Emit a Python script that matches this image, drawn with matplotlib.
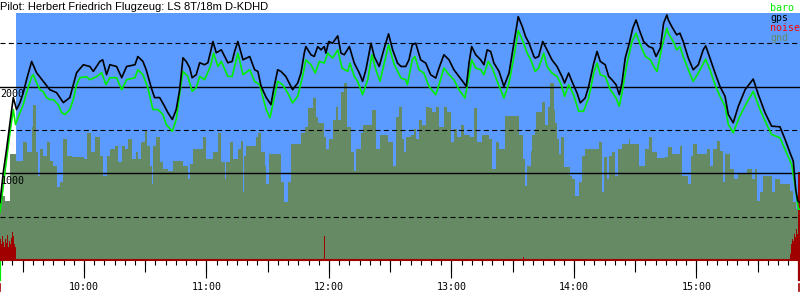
import matplotlib
matplotlib.use("Agg")
import matplotlib.pyplot as plt
from matplotlib.ticker import MultipleLocator

title = "Pilot: Herbert Friedrich Flugzeug: LS 8T/18m D-KDHD"

# all times are minutes after 09:00, altitudes in m
gps_min = [18.9, 20.5, 22.1, 23.8, 25.4, 27.0, 28.7, 30.3, 31.9, 34.4, 36.8, 40.1, 43.3, 46.6, 49.9, 53.1,
           56.4, 59.7, 62.9, 64.6, 67.8, 69.2, 71.1, 72.7, 76.0, 78.5, 80.9, 85.0,
           86.4, 88.9, 90.5, 93.0, 94.6, 97.1, 99.5, 101.1, 103.3, 105.2, 106.9, 108.5, 110.1, 111.8, 113.0,
           115.0, 116.7, 119.1, 120.7, 121.9, 123.2, 124.8, 127.3, 130.5, 132.6, 133.8, 135.4, 137.9, 141.2,
           143.6, 145.2, 146.8, 149.3,
           151.6, 153.2, 154.9, 156.5, 158.9, 162.2, 164.7, 166.3, 167.9, 168.7, 171.2, 172.8, 174.5, 176.1,
           177.7, 178.5, 179.9, 181.8, 184.3, 185.9, 187.5, 190.0, 192.4, 194.9, 196.5, 198.1, 200.6, 202.2,
           204.6, 207.1, 209.2, 211.2, 213.6, 215.3,
           217.6, 219.2, 220.8, 222.5, 224.9, 227.4, 229.8, 232.3, 233.9, 236.3, 238.8, 241.2, 243.7, 246.1,
           247.3, 248.6, 249.9, 251.9, 254.3, 255.9, 257.5, 259.2, 260.8, 263.3, 265.7, 268.2, 270.6, 272.7,
           274.7, 276.3, 278.0, 280.4,
           281.0, 282.7, 284.7, 286.8, 289.2, 291.7, 294.1, 295.4, 297.4, 299.0, 301.5, 303.1, 305.5, 307.2,
           309.7, 311.3, 312.9, 315.3, 317.0, 318.6, 320.6, 322.2, 323.5, 325.1, 327.1, 328.8, 330.4, 332.0,
           334.1, 336.6, 338.6, 340.2, 342.3, 343.9, 345.5,
           346.2, 347.9, 350.3, 351.9, 353.5, 356.0, 358.4, 360.9, 363.3, 364.5, 366.6, 369.1, 371.5, 374.0,
           375.6, 378.0, 380.5, 383.8, 387.8, 390.3, 393.6, 396.8, 400.9, 403.4, 405.8, 407.4, 408.6, 409.6,
           410.7]
gps_alt = [663, 1011, 1276, 1586, 1874, 1736, 1816, 1931, 2080, 2291, 2161, 2061, 1965, 1931, 1816, 1874,
           2161, 2253, 2233, 2176, 2291, 2310, 2138, 2253, 2233, 2103, 2233, 2253,
           2348, 2291, 2195, 1988, 1874, 1874, 1774, 1701, 1621, 1736, 1965, 2333, 2291, 2218, 2103,
           2138, 2276, 2253, 2276, 2391, 2521, 2391, 2425, 2276, 2291, 2406, 2521, 2310, 2348,
           2195, 2176, 2003, 1874,
           1793, 2003, 2195, 2176, 2118, 1965, 2042, 2157, 2387, 2463, 2368, 2348, 2463, 2425,
           2463, 2387, 2521, 2502, 2586, 2387, 2368, 2463, 2272, 2157, 2061, 2195, 2502, 2348,
           2233, 2445, 2609, 2425, 2272, 2233,
           2233, 2310, 2483, 2502, 2310, 2272, 2138, 2100, 2215, 2368, 2310, 2195, 2118, 2042,
           2003, 2272, 2463, 2368, 2310, 2253, 2425, 2406, 2272, 2176, 2003, 2157, 2502, 2808,
           2693, 2578, 2502, 2348,
           2330, 2348, 2521, 2425, 2310, 2233, 2118, 2042, 2157, 2061, 1928, 1813, 1870, 2003,
           2272, 2406, 2291, 2253, 2118, 2080, 2023, 1908, 2042, 2330, 2502, 2675, 2770, 2655,
           2521, 2463, 2445, 2348, 2445, 2732, 2828,
           2770, 2693, 2598, 2617, 2521, 2330, 2195, 2253, 2425, 2471, 2330, 2157, 2003, 1888,
           1678, 1583, 1774, 1965, 2088, 1908, 1698, 1544, 1537, 1391, 1238, 1141, 816, 682,
           663]

baro_min = [18.9, 20.5, 22.1, 23.8, 25.4, 26.5, 28.7, 30.3, 31.9, 34.4, 35.2, 36.8, 38.5, 40.1, 41.7, 43.3,
            45.0, 47.4, 49.1, 50.7, 53.1, 54.8, 56.4, 58.0, 61.3, 62.9, 66.2, 68.7, 70.8, 72.7, 76.0, 78.5,
            80.9, 85.0,
            86.4, 88.9, 91.3, 93.8, 96.2, 98.7, 100.3, 103.3, 105.2, 107.0, 108.5, 110.9, 113.0, 115.0,
            116.7, 119.1, 121.9, 123.5, 125.6, 127.3, 130.5, 132.6, 135.4, 137.9, 141.2, 143.6, 146.1,
            147.7, 149.3,
            151.1, 153.2, 154.9, 157.3, 159.8, 162.2, 164.7, 167.1, 168.7, 171.2, 173.3, 175.3, 177.7,
            179.4, 181.8, 184.3, 186.4, 189.2, 190.3, 192.4, 194.1, 196.5, 199.0, 201.1, 203.0, 205.0,
            207.1, 209.2, 212.0, 215.3,
            217.6, 218.4, 220.8, 222.1, 224.1, 226.5, 229.0, 232.3, 233.9, 236.3, 238.8, 241.2, 243.7,
            246.6, 248.6, 249.9, 251.9, 254.3, 255.9, 258.0, 260.0, 262.4, 265.7, 268.2, 270.6, 272.7,
            274.7, 277.1, 278.8, 280.4,
            281.0, 282.7, 285.2, 286.8, 289.2, 291.7, 293.8, 295.4, 297.4, 299.8, 302.3, 304.7, 307.2,
            309.7, 311.3, 312.9, 315.3, 317.8, 320.6, 322.2, 323.5, 326.0, 328.4, 330.4, 332.5, 335.0,
            337.4, 339.5, 340.7, 343.1, 345.5,
            346.2, 348.6, 350.3, 351.9, 353.5, 356.0, 358.4, 360.9, 364.5, 366.6, 369.1, 371.5, 374.0,
            375.6, 378.0, 381.2, 384.6, 387.8, 391.1, 394.4, 396.8, 400.9, 403.4, 406.6, 408.3, 409.9,
            410.7]
baro_alt = [552, 851, 1161, 1471, 1736, 1563, 1701, 1793, 1931, 2115, 2138, 2046, 1965, 1942, 1874, 1851,
            1851, 1793, 1701, 1678, 1736, 1851, 2023, 2103, 2115, 2080, 2115, 2161, 2023, 2103, 2103, 1965,
            2080, 2103,
            2195, 2138, 1988, 1736, 1736, 1678, 1563, 1486, 1621, 1931, 2176, 2118, 1946, 1988,
            2118, 2080, 2233, 2387, 2233, 2291, 2118, 2118, 2387, 2138, 2195, 2061, 2023,
            1874, 1736,
            1640, 1870, 2061, 2023, 1928, 1813, 1888, 2118, 2310, 2253, 2157, 2291, 2272,
            2387, 2330, 2425, 2215, 2176, 2272, 2118, 2061, 1908, 2080, 2368, 2195, 2061,
            2272, 2483, 2253, 2100,
            2080, 2023, 2310, 2348, 2195, 2157, 2003, 1908, 2023, 2215, 2138, 2080, 1965,
            1870, 2118, 2310, 2215, 2195, 2138, 2291, 2215, 2061, 1870, 2042, 2348, 2647,
            2540, 2387, 2310, 2215,
            2176, 2215, 2387, 2233, 2157, 2118, 2023, 1888, 2023, 1908, 1716, 1716, 1870,
            2157, 2272, 2138, 2118, 1965, 1870, 1774, 1928, 2272, 2521, 2617, 2483, 2348,
            2310, 2215, 2176, 2463, 2675,
            2617, 2521, 2425, 2463, 2348, 2195, 2061, 2157, 2318, 2195, 2023, 1888, 1774,
            1563, 1468, 1659, 1813, 1946, 1736, 1563, 1448, 1410, 1276, 1103, 854, 586,
            586]

gnd_min = [18.9, 21.3, 23.8, 26.7, 30.1, 32.1, 34.5, 35.3, 36.5, 37.7, 38.5, 39.9, 41.9, 43.3, 44.8, 46.8,
           48.2, 49.7, 51.7, 54.1, 60.0, 61.5, 63.4, 65.4, 67.8, 69.3, 71.3, 72.7, 75.2, 76.7, 78.6, 80.1,
           81.6, 83.5,
           85.6, 86.5, 88.1, 89.9, 90.9, 92.2, 93.3, 93.8, 95.4, 97.2, 98.7, 101.1, 103.6, 108.5, 110.9,
           111.9, 113.4, 118.3, 119.9, 123.2, 125.6, 127.3, 129.1, 129.7, 131.5, 133.0, 135.4, 136.9, 137.9,
           138.4, 139.5, 144.4, 145.2, 146.8, 148.7,
           149.1, 150.8, 156.5, 158.1, 159.8, 161.4, 166.3, 168.4, 169.6, 172.0, 173.6, 174.5, 177.7, 178.5,
           180.1, 181.8, 183.4, 184.3, 185.9, 187.5, 188.7, 190.8, 192.4, 193.2, 195.7, 196.7, 201.1, 203.0,
           205.0, 208.8, 211.2, 212.8, 214.4,
           215.9, 216.7, 217.9, 220.0, 221.6, 222.8, 224.1, 225.7, 227.4, 229.0, 230.6, 232.3, 233.9, 236.3,
           238.0, 239.6, 241.2, 242.8, 244.5, 246.1, 249.1, 251.0, 252.6, 255.1, 258.4, 260.0, 261.7, 263.3,
           266.2, 273.1, 275.0, 276.0, 277.1, 278.8,
           279.4, 280.8, 281.4, 284.3, 286.0, 287.3, 288.4, 290.1, 290.8, 291.7, 292.5, 293.8, 294.9, 298.2,
           299.0, 300.6, 302.3, 303.9, 305.5, 312.1, 313.7, 314.5, 316.2, 317.3, 318.6, 320.2, 321.6, 323.5,
           326.8, 327.4, 331.7, 334.9, 336.6, 338.2, 340.7,
           344.6, 346.2, 347.9, 351.9, 353.1, 356.0, 357.3, 358.4, 360.1, 365.0, 366.6, 368.2, 369.9, 371.5,
           373.1, 374.0, 376.4, 378.5, 380.5, 384.6, 387.0, 388.6, 389.6, 391.1, 392.6, 396.8, 398.5, 400.9,
           405.8, 407.4, 408.6, 410.7]
gnd_alt = [736, 678, 1218, 1138, 1356, 1241, 1540, 1793, 1241, 965, 1276, 1195, 1356, 1138, 1080, 839,
           897, 1391, 1195, 1184, 1161, 1471, 1241, 1425, 1195, 965, 1195, 1276, 1310, 1126, 1310, 1276,
           1391, 1161,
           1241, 1161, 1356, 1483, 1310, 1080, 874, 1310, 1425, 1126, 1046, 1023, 1138, 1080, 931,
           1103, 1276, 1414, 1161, 1241, 1471, 1126, 931, 1126, 1356, 1161, 1276, 1368, 782,
           1195, 1310, 1425, 1471, 1241, 1080,
           874, 1218, 897, 667, 897, 1333, 1471, 1540, 1759, 1874, 1655, 1586, 1425, 1276,
           1391, 1621, 1770, 1621, 1942, 2046, 1540, 1241, 1023, 1276, 1471, 1563, 1736, 1276,
           1448, 1356, 1080, 1655, 1770,
           1391, 1241, 1414, 1448, 1506, 1391, 1621, 1563, 1770, 1759, 1713, 1770, 1540, 1770,
           1713, 1356, 1506, 1425, 1563, 1448, 1425, 1759, 1356, 1448, 1391, 1046, 1356, 1276,
           1667, 1448, 1161, 851, 1080, 1253,
           1448, 1506, 1713, 1828, 1563, 1770, 2046, 1736, 1586, 1391, 1218, 1414, 1069, 965,
           931, 736, 897, 1195, 1276, 1356, 782, 1184, 931, 1195, 1241, 965, 1276, 1333,
           1391, 1333, 1080, 1276, 1414, 1241, 1172,
           1184, 1299, 1218, 1310, 965, 874, 1195, 1333, 1218, 1276, 1080, 1276, 1368, 1253,
           897, 1218, 1046, 931, 988, 1046, 931, 1046, 678, 782, 965, 782, 931, 874,
           793, 667, 586, 586]

# engine noise level, drawn on the altitude scale
noise_min = [18.9, 19.4, 19.9, 20.3, 20.8, 21.3, 21.8, 22.3, 22.8, 23.3, 23.8, 24.2, 24.7, 25.2, 25.7, 26.2,
             26.7, 177.5, 178.1, 274.9, 275.3, 405.6, 406.1, 406.6, 407.1, 407.6, 408.1, 408.6, 409.0,
             409.5, 409.9, 410.7]
noise_val = [241, 184, 276, 207, 149, 241, 195, 287, 149, 218, 184, 253, 322, 276, 184, 149,
             0, 276, 0, 30, 0, 70, 184, 241, 218, 299, 264, 356, 300, 330, 1011, 1011]

t_first, t_last = 18.9, 410.7
sky_from = 26.7
takeoff_min, landing_min = 19.0, 410.2
solid_levels = [1000, 2000]
dashed_levels = [500, 1500, 2500]
hour_ticks = [10, 11, 12, 13, 14, 15]
hour_labels = ["10:00", "11:00", "12:00", "13:00", "14:00", "15:00"]
legend_names = ["baro", "gps", "noise", "gnd"]

SKY = "#5b9bff"
GND = "#658a64"
BARO = "#00ee00"
NOISE = "#a00000"
MONO = "DejaVu Sans Mono"


def hrs(mins):
    return [9 + m / 60 for m in mins]


fig = plt.figure(figsize=(8, 3), dpi=100)
ax = fig.add_axes([0, 40 / 300, 1, 247 / 300])
ax.set_facecolor("white")

ax.axvspan(hrs([sky_from])[0], hrs([t_last])[0], color=SKY, lw=0, zorder=0)
ax.fill_between(hrs(gnd_min), gnd_alt, 0, step="post", color=GND, lw=0, zorder=1)
ax.fill_between(hrs(noise_min), noise_val, 0, step="post", color=NOISE, lw=0, zorder=1.5)

for lv in solid_levels:
    ax.axhline(lv, color="black", lw=1, zorder=2)
for lv in dashed_levels:
    ax.axhline(lv, color="black", lw=0.8, dashes=(4.5, 3), zorder=2)

ax.plot(hrs(baro_min), baro_alt, color=BARO, lw=1.2, zorder=3)
ax.plot(hrs(gps_min), gps_alt, color="black", lw=1.2, zorder=3.5)

for lv in solid_levels:
    ax.annotate(str(lv), (0, lv), xycoords=("axes fraction", "data"), xytext=(0.5, -2),
                textcoords="offset points", va="top", ha="left", fontsize=7.2,
                family=MONO, zorder=5)

ax.set_xlim(hrs([t_first])[0], hrs([t_last])[0])
ax.set_ylim(0, 2850)
ax.set_yticks([])
for s in ["top", "left", "right"]:
    ax.spines[s].set_visible(False)
ax.spines["bottom"].set_color(NOISE)
ax.spines["bottom"].set_linewidth(1.5)

ax.set_xticks(hour_ticks)
ax.set_xticklabels(hour_labels, family=MONO, fontsize=7.2)
ax.xaxis.set_minor_locator(MultipleLocator(5 / 60))
ax.tick_params(axis="x", which="major", direction="out", length=13, width=0.8, pad=3)
ax.tick_params(axis="x", which="minor", direction="out", length=3.6, width=0.8)

half = ax.secondary_xaxis("bottom")
half.xaxis.set_major_locator(MultipleLocator(0.5))
half.tick_params(axis="x", direction="out", length=8.6, width=0.8, labelbottom=False)
half.spines["bottom"].set_visible(False)

# takeoff / landing markers below the axis
tr = ax.get_xaxis_transform()
ax.plot(hrs([takeoff_min]) * 2, [-0.008, -0.08], color=BARO, lw=1.6, transform=tr, clip_on=False)
for t in [takeoff_min, landing_min]:
    ax.plot(hrs([t]) * 2, [-0.098, -0.126], color=NOISE, lw=1.2, transform=tr, clip_on=False)
ax.plot(hrs([landing_min]) * 2, [-0.008, -0.08], color=NOISE, lw=1.6, transform=tr, clip_on=False)

fig.text(0, 1 - 10.5 / 300, title, family="Liberation Sans", fontsize=8, va="baseline")
for i, (name, col) in enumerate(zip(legend_names, [BARO, "black", "red", GND])):
    fig.text(770 / 800, 1 - (11 + 10 * i) / 300, name, color=col, family=MONO,
             fontsize=7.2, va="baseline")

fig.savefig("out.png", dpi=100)
